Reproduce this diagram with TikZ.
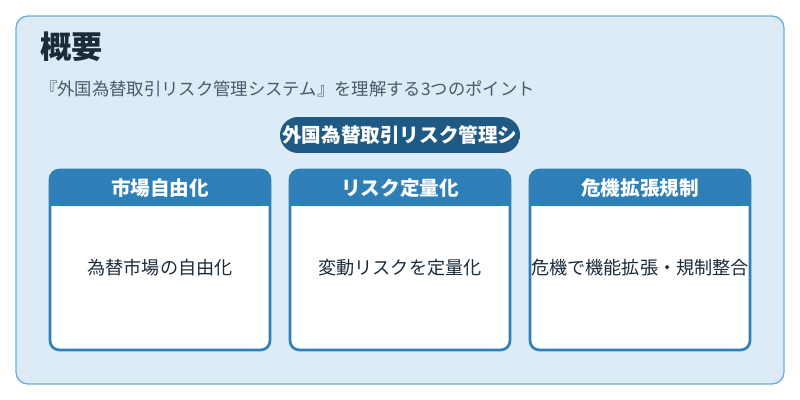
\documentclass[tikz,border=0pt]{standalone}
\usepackage{fontspec}
\setmainfont{Noto Sans CJK JP}
\usetikzlibrary{positioning}
\definecolor{panelbg}{HTML}{DCEBF6}
\definecolor{panelline}{HTML}{6BAED6}
\definecolor{pillbg}{HTML}{1F5A85}
\definecolor{cardhead}{HTML}{2E7FB8}
\definecolor{titletext}{HTML}{1B2B3A}
\definecolor{subtext}{HTML}{4A5A6A}
\tikzset{
  headtext/.style={text=white, font=\bfseries\fontsize{14.7}{17}\selectfont},
  bodytext/.style={text=titletext, font=\fontsize{13.6}{16}\selectfont},
}
\begin{document}
\begin{tikzpicture}[x=0.75pt,y=-0.75pt]
\useasboundingbox (0,0) rectangle (800,400);
\draw[panelline, fill=panelbg, line width=1pt, rounded corners=9pt] (16,16) rectangle (784,384);
\node[anchor=west, text=titletext, font=\bfseries\fontsize{23.4}{27}\selectfont, inner sep=0pt] (title) at (40,47) {概要};
\node[anchor=west, text=subtext, font=\fontsize{13}{15}\selectfont, inner sep=0pt] (subtitle) at (40,89) {『外国為替取引リスク管理システム』を理解する3つのポイント};
% pill with clipped label
\begin{scope}
\clip[rounded corners=13.5pt] (280,117) rectangle (520,153);
\fill[pillbg] (280,117) rectangle (520,153);
\node[anchor=west, headtext, inner sep=0pt] (pill) at (282,135) {外国為替取引リスク管理システム};
\end{scope}
% cards
\foreach \x/\head/\body/\name in {50/市場自由化/為替市場の自由化/one, 290/リスク定量化/変動リスクを定量化/two, 530/危機拡張規制/危機で機能拡張・規制整合/three}{
  \fill[white, rounded corners=7pt] (\x,170) rectangle (\x+220,350);
  \fill[cardhead, rounded corners=7pt] (\x,170) rectangle (\x+220,206);
  \fill[cardhead] (\x,195) rectangle (\x+220,206);
  \draw[cardhead, line width=2pt, rounded corners=7pt] (\x,170) rectangle (\x+220,350);
  \node[headtext] (\name head) at (\x+110,188) {\head};
  \node[bodytext] (\name body) at (\x+110,268) {\body};
}
\end{tikzpicture}
\end{document}
